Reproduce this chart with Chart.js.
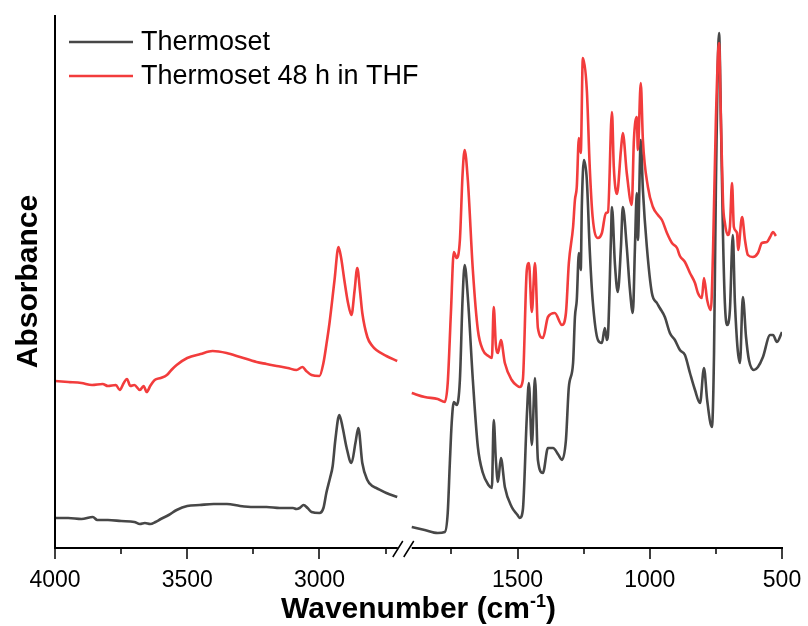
<!DOCTYPE html>
<html>
<head>
<meta charset="utf-8">
<script src="https://cdn.jsdelivr.net/npm/chart.js@4/dist/chart.umd.min.js"></script>
<style>
  html, body { margin: 0; padding: 0; background: #fff; }
  canvas { display: block; }
</style>
</head>
<body>
<canvas id="ftir" width="808" height="626"></canvas>
<script>
// Thermoset spectrum (wavenumber cm-1, absorbance a.u.)
const thermosetWn = [
  4000, 3950, 3900, 3857, 3840, 3800, 3750, 3700, 3679, 3660, 3640, 3620, 3600, 3570, 3540, 3500,
  3453, 3400, 3350, 3300, 3250, 3200, 3150, 3100, 3087, 3075, 3060, 3045, 3030, 3000, 2985, 2974,
  2960, 2950, 2940, 2925, 2912, 2898, 2879, 2864, 2853, 2838, 2819, 2800, 2785, 2747, 2706,
  1900, 1851, 1802, 1775, 1764, 1756, 1749, 1741, 1730, 1718, 1708, 1700, 1688, 1669, 1650, 1631,
  1610, 1597, 1590, 1582, 1574, 1563, 1548, 1522, 1500, 1492, 1480, 1465, 1457, 1446, 1434, 1423,
  1404, 1385, 1366, 1345, 1332, 1317, 1306, 1290, 1283, 1276, 1268, 1261, 1257, 1249, 1238, 1227,
  1216, 1196, 1181, 1170, 1162, 1158, 1147, 1143, 1132, 1121, 1109, 1102, 1087, 1075, 1064, 1056,
  1049, 1045, 1034, 1026, 1011, 992, 973, 962, 943, 924, 905, 886, 867, 848, 829, 810,
  795, 783, 765, 757, 750, 738, 731, 723, 716, 708, 697, 686, 678, 659, 648, 636,
  625, 606, 591, 572, 545, 534, 519, 500
];
const thermosetAbs = [
  0.30, 0.30, 0.29, 0.31, 0.28, 0.28, 0.27, 0.26, 0.24, 0.25, 0.24, 0.26, 0.29, 0.33, 0.38, 0.42,
  0.43, 0.44, 0.44, 0.42, 0.41, 0.41, 0.40, 0.40, 0.39, 0.40, 0.43, 0.40, 0.36, 0.35, 0.40, 0.55,
  0.70, 0.82, 1.08, 1.33, 1.20, 1.01, 0.85, 1.05, 1.20, 0.85, 0.68, 0.62, 0.60, 0.55, 0.51,
  0.21, 0.18, 0.15, 0.16, 0.35, 0.85, 1.25, 1.46, 1.43, 1.68, 2.48, 2.83, 2.51, 1.68, 1.01, 0.75,
  0.63, 0.60, 1.28, 0.88, 0.66, 0.90, 0.61, 0.41, 0.33, 0.30, 0.38, 1.31, 1.65, 1.03, 1.70, 0.88,
  0.75, 1.00, 1.00, 0.93, 0.88, 1.08, 1.61, 1.85, 2.31, 2.48, 2.95, 2.78, 3.41, 3.88, 3.68, 2.98,
  2.48, 2.08, 2.05, 2.20, 2.08, 2.13, 3.08, 3.41, 2.85, 2.56, 3.01, 3.41, 3.01, 2.58, 2.35, 3.01,
  3.55, 3.08, 4.08, 3.58, 3.01, 2.55, 2.45, 2.40, 2.31, 2.15, 2.08, 1.98, 1.93, 1.75, 1.58, 1.45,
  1.80, 1.48, 1.21, 1.95, 3.61, 5.15, 4.28, 3.11, 2.45, 2.23, 2.38, 3.13, 2.45, 1.85, 2.51, 2.11,
  1.88, 1.78, 1.81, 1.91, 2.13, 2.13, 2.06, 2.16
];

// Thermoset after 48 h in THF
const thfWn = [
  4000, 3950, 3900, 3860, 3820, 3800, 3770, 3755, 3740, 3728, 3715, 3700, 3679, 3665, 3653, 3640,
  3623, 3600, 3577, 3560, 3540, 3500, 3450, 3404, 3351, 3300, 3238, 3200, 3162, 3120, 3087, 3064,
  3050, 3030, 3000, 2985, 2974, 2962, 2943, 2928, 2918, 2906, 2892, 2879, 2867, 2857, 2847, 2838,
  2819, 2800, 2785, 2747, 2706,
  1900, 1851, 1802, 1775, 1764, 1752, 1741, 1730, 1718, 1708, 1700, 1688, 1669, 1650, 1631, 1610,
  1597, 1590, 1582, 1574, 1563, 1548, 1522, 1500, 1492, 1480, 1465, 1457, 1446, 1434, 1423, 1404,
  1385, 1359, 1332, 1317, 1306, 1290, 1283, 1276, 1268, 1261, 1253, 1238, 1227, 1216, 1196, 1181,
  1166, 1158, 1143, 1136, 1124, 1109, 1102, 1087, 1068, 1060, 1049, 1045, 1034, 1026, 1007, 988,
  969, 954, 935, 916, 897, 886, 867, 848, 829, 818, 803, 795, 783, 769, 761, 750,
  738, 731, 723, 716, 705, 697, 689, 682, 670, 666, 651, 640, 629, 610, 591, 576,
  557, 545, 534, 523
];
const thfAbs = [
  1.67, 1.66, 1.65, 1.63, 1.64, 1.62, 1.63, 1.58, 1.65, 1.69, 1.62, 1.63, 1.58, 1.62, 1.56, 1.62,
  1.68, 1.70, 1.73, 1.78, 1.83, 1.90, 1.94, 1.97, 1.95, 1.91, 1.86, 1.84, 1.82, 1.80, 1.78, 1.81,
  1.77, 1.73, 1.72, 1.85, 2.03, 2.25, 2.68, 3.01, 2.90, 2.68, 2.45, 2.33, 2.58, 2.80, 2.58, 2.35,
  2.11, 2.02, 1.98, 1.92, 1.87,
  1.55, 1.51, 1.49, 1.46, 1.65, 2.35, 2.96, 2.90, 3.08, 3.73, 3.98, 3.68, 2.78, 2.18, 1.98, 1.92,
  1.90, 2.41, 2.03, 1.95, 2.08, 1.85, 1.68, 1.62, 1.61, 1.68, 2.78, 2.85, 2.36, 2.85, 2.20, 2.10,
  2.31, 2.35, 2.23, 2.35, 2.85, 3.21, 3.48, 3.61, 4.10, 3.95, 4.90, 4.58, 3.81, 3.31, 3.10, 3.15,
  3.35, 3.36, 4.36, 3.81, 3.54, 3.98, 4.15, 3.75, 3.43, 4.08, 4.31, 3.98, 4.65, 4.08, 3.61, 3.41,
  3.33, 3.28, 3.15, 3.05, 3.00, 2.92, 2.86, 2.75, 2.65, 2.55, 2.50, 2.70, 2.48, 2.38, 2.95, 4.28,
  5.05, 4.28, 3.45, 3.25, 3.13, 3.21, 3.65, 3.21, 3.15, 2.98, 3.31, 3.08, 2.93, 2.91, 2.95, 3.05,
  3.06, 3.11, 3.16, 3.12
];

// axis labels
const majorTicks = [4000, 3500, 3000, 1500, 1000, 500];
const minorTicks = [3750, 3250, 2750, 1750, 1250, 750];
const seriesNames = ['Thermoset', 'Thermoset 48 h in THF'];

// broken axis: 4000-2700 then 1900-500, small gap between
const LEFT_END = 2700, RIGHT_START = 1900, GAP = 49;
function toAxis(w) {
  if (w >= 2300) return 4000 - w;
  return (4000 - LEFT_END) + GAP + (RIGHT_START - w);
}
const AXIS_MAX = toAxis(500);

function toPoints(wn, vals) {
  const pts = [];
  for (let i = 0; i < wn.length; i++) {
    if (i > 0 && wn[i - 1] >= 2300 && wn[i] < 2300) {
      pts.push({ x: toAxis(LEFT_END) + GAP / 2, y: null });
    }
    pts.push({ x: toAxis(wn[i]), y: vals[i] });
  }
  return pts;
}

const FONT = "'Liberation Sans', Arial, sans-serif";
const GREY = '#474747';
const RED = '#f23c3c';

const decor = {
  id: 'decor',
  afterDraw(chart) {
    const ctx = chart.ctx;
    const xs = chart.scales.x;
    const area = chart.chartArea;
    const yb = area.bottom;
    ctx.save();
    ctx.strokeStyle = '#000';
    ctx.lineWidth = 2;
    ctx.lineCap = 'butt';

    // y axis
    ctx.beginPath();
    ctx.moveTo(area.left, area.top);
    ctx.lineTo(area.left, yb + 1);
    ctx.stroke();

    // x axis, two pieces
    const leftEnd = xs.getPixelForValue(toAxis(LEFT_END)) - 1;
    const rightStart = xs.getPixelForValue(toAxis(RIGHT_START));
    ctx.beginPath();
    ctx.moveTo(area.left - 1, yb);
    ctx.lineTo(leftEnd, yb);
    ctx.moveTo(rightStart, yb);
    ctx.lineTo(area.right + 1, yb);
    ctx.stroke();

    // ticks
    ctx.lineWidth = 1.5;
    ctx.beginPath();
    majorTicks.forEach(w => {
      const px = Math.round(xs.getPixelForValue(toAxis(w)));
      ctx.moveTo(px, yb);
      ctx.lineTo(px, yb + 11);
    });
    minorTicks.forEach(w => {
      const px = Math.round(xs.getPixelForValue(toAxis(w)));
      ctx.moveTo(px, yb);
      ctx.lineTo(px, yb + 6);
    });
    ctx.stroke();

    // break marks
    ctx.lineWidth = 1.5;
    ctx.beginPath();
    [leftEnd - 5, rightStart - 8].forEach(x0 => {
      ctx.moveTo(x0, yb + 9);
      ctx.lineTo(x0 + 10, yb - 7);
    });
    ctx.stroke();

    // legend
    const colors = [GREY, RED];
    const rows = [42, 76];
    ctx.font = '27px ' + FONT;
    ctx.textBaseline = 'alphabetic';
    ctx.textAlign = 'left';
    seriesNames.forEach((name, i) => {
      ctx.strokeStyle = colors[i];
      ctx.lineWidth = 2.5;
      ctx.beginPath();
      ctx.moveTo(69, rows[i]);
      ctx.lineTo(133, rows[i]);
      ctx.stroke();
      ctx.fillStyle = '#000';
      ctx.fillText(name, 141, rows[i] + 8);
    });

    // x title with superscript
    const big = 'bold 30px ' + FONT, small = 'bold 18px ' + FONT;
    const p1 = 'Wavenumber (cm', p2 = '-1', p3 = ')';
    ctx.font = big;
    const w1 = ctx.measureText(p1).width, w3 = ctx.measureText(p3).width;
    ctx.font = small;
    const w2 = ctx.measureText(p2).width;
    let x = (area.left + area.right) / 2 - (w1 + w2 + w3) / 2;
    const base = 618;
    ctx.fillStyle = '#000';
    ctx.font = big;
    ctx.fillText(p1, x, base);
    x += w1;
    ctx.font = small;
    ctx.fillText(p2, x, base - 11);
    x += w2;
    ctx.font = big;
    ctx.fillText(p3, x, base);

    // y title
    ctx.translate(37, (area.top + area.bottom) / 2);
    ctx.rotate(-Math.PI / 2);
    ctx.textAlign = 'center';
    ctx.font = 'bold 30px ' + FONT;
    ctx.fillText('Absorbance', 0, 0);
    ctx.restore();
  }
};

new Chart(document.getElementById('ftir'), {
  type: 'line',
  data: {
    datasets: [{
      label: seriesNames[0],
      data: toPoints(thermosetWn, thermosetAbs),
      borderColor: GREY,
      borderWidth: 2.6,
      order: 2
    }, {
      label: seriesNames[1],
      data: toPoints(thfWn, thfAbs),
      borderColor: RED,
      borderWidth: 2.6,
      order: 1
    }]
  },
  options: {
    responsive: false,
    animation: false,
    spanGaps: false,
    elements: {
      point: { radius: 0 },
      line: { cubicInterpolationMode: 'monotone', borderJoinStyle: 'round' }
    },
    layout: { padding: { left: 55, right: 26, top: 15, bottom: 0 } },
    plugins: { legend: { display: false }, tooltip: { enabled: false } },
    scales: {
      x: {
        type: 'linear',
        min: 0,
        max: AXIS_MAX,
        grid: { display: false },
        border: { display: false },
        afterBuildTicks(scale) {
          scale.ticks = majorTicks.map(w => ({ value: toAxis(w) }));
        },
        afterFit(scale) {
          scale.height = 78;
          scale.paddingLeft = 0;
          scale.paddingRight = 0;
        },
        ticks: {
          autoSkip: false,
          maxRotation: 0,
          padding: 11,
          color: '#000',
          font: { family: FONT, size: 23 },
          callback(value) {
            const i = majorTicks.findIndex(w => Math.abs(toAxis(w) - value) < 1);
            return i >= 0 ? String(majorTicks[i]) : '';
          }
        }
      },
      y: {
        display: false,
        min: 0,
        max: 5.33
      }
    }
  },
  plugins: [decor]
});
</script>
</body>
</html>
